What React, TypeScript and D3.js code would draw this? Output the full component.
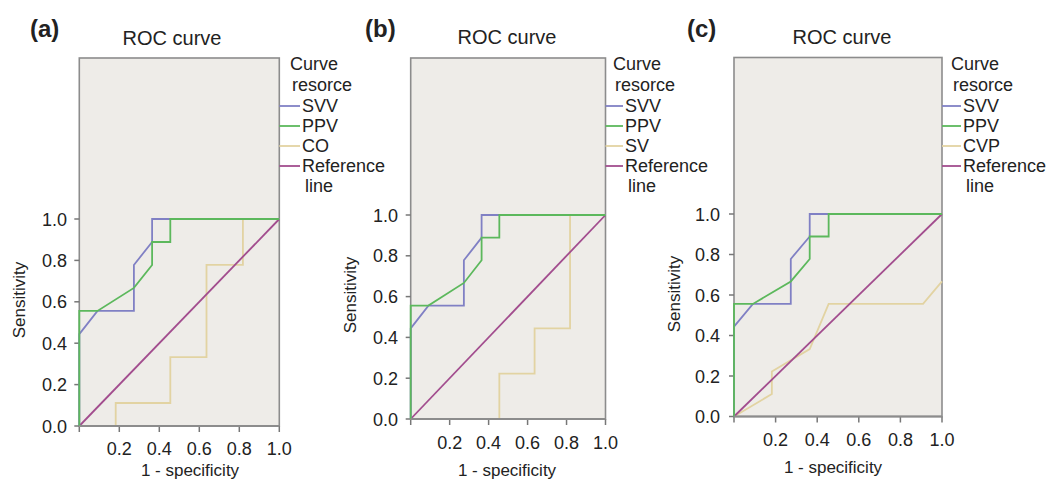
import React, { useEffect, useRef } from "react";
import * as d3 from "d3";

// ROC points as [1 - specificity, sensitivity]
const svvPoints: [number, number][] = [
  [0, 0], [0, 0.444], [0.091, 0.556], [0.273, 0.556], [0.273, 0.778],
  [0.364, 0.889], [0.364, 1], [1, 1],
];
const ppvPoints: [number, number][] = [
  [0, 0], [0, 0.556], [0.091, 0.556], [0.273, 0.667], [0.364, 0.778],
  [0.364, 0.889], [0.455, 0.889], [0.455, 1], [1, 1],
];
const coPoints: [number, number][] = [
  [0, 0], [0.182, 0], [0.182, 0.111], [0.455, 0.111], [0.455, 0.333],
  [0.636, 0.333], [0.636, 0.778], [0.818, 0.778], [0.818, 1], [1, 1],
];
const svPoints: [number, number][] = [
  [0, 0], [0.455, 0], [0.455, 0.222], [0.636, 0.222], [0.636, 0.444],
  [0.818, 0.444], [0.818, 1], [1, 1],
];
const cvpPoints: [number, number][] = [
  [0, 0], [0.182, 0.111], [0.182, 0.222], [0.364, 0.333], [0.455, 0.556],
  [0.909, 0.556], [1, 0.667],
];
const referencePoints: [number, number][] = [[0, 0], [1, 1]];

const panelLetters = ["(a)", "(b)", "(c)"];
const thirdSeriesNames = ["CO", "SV", "CVP"];
const thirdSeriesData = [coPoints, svPoints, cvpPoints];
const yTicks = [0, 0.2, 0.4, 0.6, 0.8, 1.0];
const xTicks = [0, 0.2, 0.4, 0.6, 0.8, 1.0];

const COLORS = {
  svv: "#8080c4",
  ppv: "#5cb85c",
  third: "#e2d3a2",
  ref: "#a24d8e",
};

// layout per panel (pixels)
const layouts = [
  { left: 79.3, right: 279.3, top: 58, y0: 426, y1: 219, tickBase: 455, xTitleX: 190, xTitleY: 476, yLabX: 67, sensX: 25, sensY: 300, titleX: 172, titleY: 45, letterX: 30, legendX: 290 },
  { left: 410.7, right: 605.5, top: 58, y0: 419, y1: 215, tickBase: 449, xTitleX: 507, xTitleY: 476, yLabX: 398, sensX: 356, sensY: 295, titleX: 507, titleY: 44, letterX: 365, legendX: 613 },
  { left: 734, right: 942, top: 57.5, y0: 416.5, y1: 214, tickBase: 446, xTitleX: 833, xTitleY: 473, yLabX: 720, sensX: 680, sensY: 294, titleX: 842, titleY: 44, letterX: 687, legendX: 951 },
];

const FONT = "'Liberation Sans', Arial, Helvetica, sans-serif";

export default function App() {
  const ref = useRef<SVGSVGElement>(null);

  useEffect(() => {
    const svg = d3.select(ref.current);
    svg.selectAll("*").remove();
    svg.append("rect").attr("width", 1050).attr("height", 480).attr("fill", "#fff");

    layouts.forEach((L, i) => {
      const g = svg.append("g").style("font-family", FONT).attr("fill", "#222");
      const x = d3.scaleLinear().domain([0, 1]).range([L.left, L.right]);
      const y = d3.scaleLinear().domain([0, 1]).range([L.y0, L.y1]);

      // plot area
      g.append("rect")
        .attr("x", L.left).attr("y", L.top)
        .attr("width", L.right - L.left).attr("height", L.y0 - L.top)
        .attr("fill", "#eeece8")
        .attr("stroke", "#8c8c8c")
        .attr("stroke-width", 1.6);

      // ticks
      g.selectAll(".yt").data(yTicks).enter().append("line")
        .attr("x1", L.left - 5).attr("x2", L.left)
        .attr("y1", d => y(d)).attr("y2", d => y(d))
        .attr("stroke", "#777").attr("stroke-width", 1.5);
      g.selectAll(".yl").data(yTicks).enter().append("text")
        .attr("x", L.yLabX).attr("y", d => y(d) + 6.5)
        .attr("text-anchor", "end").attr("font-size", 18)
        .text(d => d.toFixed(1));
      g.selectAll(".xt").data(xTicks).enter().append("line")
        .attr("x1", d => x(d)).attr("x2", d => x(d))
        .attr("y1", L.y0).attr("y2", L.y0 + 6)
        .attr("stroke", "#777").attr("stroke-width", 1.5);
      g.selectAll(".xl").data(xTicks.filter(d => d > 0)).enter().append("text")
        .attr("x", d => x(d)).attr("y", L.tickBase)
        .attr("text-anchor", "middle").attr("font-size", 18)
        .text(d => d.toFixed(1));

      // axis titles
      g.append("text")
        .attr("x", L.xTitleX).attr("y", L.xTitleY)
        .attr("text-anchor", "middle").attr("font-size", 17)
        .text("1 - specificity");
      g.append("text")
        .attr("transform", `translate(${L.sensX},${L.sensY}) rotate(-90)`)
        .attr("text-anchor", "middle").attr("font-size", 17)
        .text("Sensitivity");

      // title and panel letter
      g.append("text")
        .attr("x", L.titleX).attr("y", L.titleY)
        .attr("text-anchor", "middle").attr("font-size", 20)
        .text("ROC curve");
      g.append("text")
        .attr("x", L.letterX).attr("y", 36.5)
        .attr("font-size", 24).attr("font-weight", "bold")
        .text(panelLetters[i]);

      // curves
      const line = d3.line<[number, number]>().x(d => x(d[0])).y(d => y(d[1]));
      const series = [
        { pts: thirdSeriesData[i], color: COLORS.third },
        { pts: referencePoints, color: COLORS.ref },
        { pts: svvPoints, color: COLORS.svv },
        { pts: ppvPoints, color: COLORS.ppv },
      ];
      series.forEach(s => {
        g.append("path")
          .attr("d", line(s.pts))
          .attr("fill", "none")
          .attr("stroke", s.color)
          .attr("stroke-width", 1.8);
      });

      // bottom axis line drawn over the curves
      g.append("line")
        .attr("x1", L.left).attr("x2", L.right)
        .attr("y1", L.y0).attr("y2", L.y0)
        .attr("stroke", "#8c8c8c").attr("stroke-width", 2.2);

      // legend
      const legendItems = [
        { name: "SVV", color: COLORS.svv },
        { name: "PPV", color: COLORS.ppv },
        { name: thirdSeriesNames[i], color: COLORS.third },
        { name: "Reference", color: COLORS.ref },
      ];
      const lg = g.append("g").attr("font-size", 18);
      lg.append("text").attr("x", L.legendX).attr("y", 70).text("Curve");
      lg.append("text").attr("x", L.legendX + 2).attr("y", 91).text("resorce");
      const rowY = [112, 132, 152, 172];
      legendItems.forEach((it, k) => {
        lg.append("line")
          .attr("x1", L.right).attr("x2", L.legendX + 10)
          .attr("y1", rowY[k] - 6).attr("y2", rowY[k] - 6)
          .attr("stroke", it.color).attr("stroke-width", 1.8);
        lg.append("text").attr("x", L.legendX + 12).attr("y", rowY[k]).text(it.name);
      });
      lg.append("text").attr("x", L.legendX + 15).attr("y", 192).text("line");
    });
  }, []);

  return (
    <svg
      ref={ref}
      width={1050}
      height={480}
      style={{ position: "absolute", left: 0, top: 0 }}
    />
  );
}
